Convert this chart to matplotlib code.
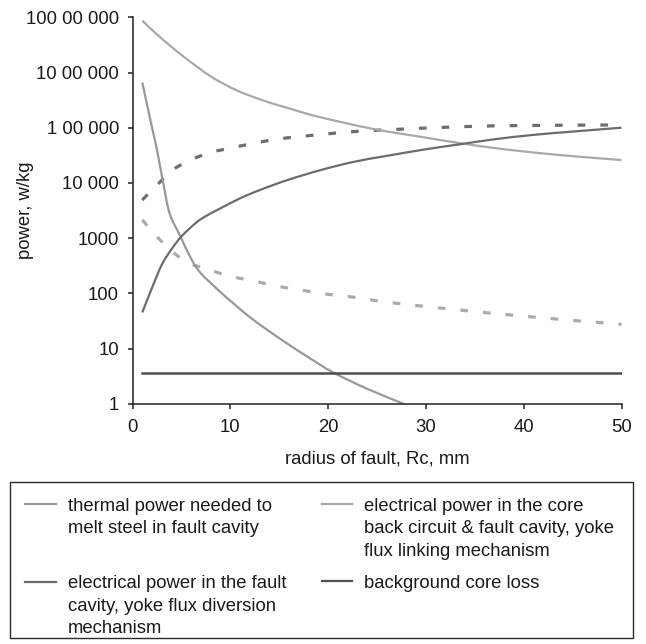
import numpy as np
import matplotlib
matplotlib.use("Agg")
import matplotlib.pyplot as plt
from matplotlib.lines import Line2D
from matplotlib.patches import Rectangle, PathPatch
from matplotlib.path import Path
from matplotlib.transforms import Affine2D
from matplotlib.ticker import NullLocator

plt.rcParams["font.family"] = ["Liberation Sans", "DejaVu Sans"]
FS = 13.3

# ---- data: fault radius (mm) vs power (W/kg) ----
core_back_x = [1, 2, 3, 4, 5.5, 8, 10.6, 13.4, 16, 19, 24.6, 30, 33.5, 38, 44, 50]
core_back_y = [8.7e6, 5.9e6, 4.1e6, 2.9e6, 1.78e6, 8.5e5, 4.8e5, 3.1e5, 2.24e5,
               1.58e5, 9.5e4, 6.6e4, 5.25e4, 4.07e4, 3.16e4, 2.6e4]

thermal_x = [1, 2, 2.5, 3.15, 3.8, 4.9, 5.9, 6.9, 9, 10.3, 12, 14, 16, 18, 20.5, 24, 27.7]
thermal_y = [6.6e5, 1.0e5, 4.0e4, 9.8e3, 2.8e3, 1070, 457, 240, 105, 66, 37, 20.4,
             11.7, 6.9, 3.7, 1.86, 1.0]

diversion_x = [1, 2, 3, 4, 5, 6.5, 7.5, 9, 11, 13, 15.8, 19.2, 22.6, 26, 30,
               33.5, 37, 41, 45, 50]
diversion_y = [45, 126, 331, 631, 1070, 1900, 2500, 3470, 5250, 7400, 11200,
               17000, 24000, 30900, 40700, 50100, 61700, 74100, 85100, 100000]

trend_upper_x = [1, 2.5, 4.4, 7.4, 10, 12.5, 14.7, 17.1, 19.5, 22.6, 27, 33.8, 40.3, 50]
trend_upper_y = [4900, 9100, 18600, 33100, 42700, 52500, 61700, 69200, 75900,
                 85100, 93300, 104700, 109600, 112200]

trend_lower_x = [1, 2.8, 5.2, 7.4, 10, 12.5, 14.7, 17, 19.5, 22.6, 24.8, 27, 31.5, 40.3, 50]
trend_lower_y = [2140, 933, 398, 282, 204, 166, 135, 117, 98, 85, 74, 66, 54, 38, 27.5]

background_x = [1, 50]
background_y = [3.56, 3.56]

y_ticks = [1, 10, 100, 1000, 1e4, 1e5, 1e6, 1e7]
y_tick_labels = ["1", "10", "100", "1000", "10 000", "1 00 000", "10 00 000", "100 00 000"]
x_ticks = [0, 10, 20, 30, 40, 50]

legend_entries = [
    ("thermal", ["thermal power needed to", "melt steel in fault cavity"]),
    ("core_back", ["electrical power in the core", "back circuit & fault cavity, yoke",
                   "flux linking mechanism"]),
    ("diversion", ["electrical power in the fault", "cavity, yoke flux diversion",
                   "mechanism"]),
    ("background", ["background core loss"]),
]

colors = {
    "thermal": "#989898",
    "core_back": "#a9a9a9",
    "diversion": "#6c6c6c",
    "background": "#505050",
    "trend_upper": "#6e6e6e",
    "trend_lower": "#ababab",
}


def smooth_curve(ax, xs, ys, **kw):
    """Draw a smoothed line through (xs, ys) as cubic Bezier segments
    (Catmull-Rom tangents taken in x / log10(y) space)."""
    P = np.column_stack([np.asarray(xs, float), np.log10(ys)])
    n = len(P)
    verts = [P[0]]
    codes = [Path.MOVETO]
    for i in range(n - 1):
        p0 = P[max(i - 1, 0)]
        p3 = P[min(i + 2, n - 1)]
        c1 = P[i] + (P[i + 1] - p0) / 6.0
        c2 = P[i + 1] - (p3 - P[i]) / 6.0
        verts += [c1, c2, P[i + 1]]
        codes += [Path.CURVE4] * 3
    V = np.array(verts)
    V[:, 1] = 10.0 ** V[:, 1]
    patch = PathPatch(Path(V, codes), fill=False, capstyle="butt", **kw)
    ax.add_patch(patch)
    return patch


W, H = 646, 644
fig = plt.figure(figsize=(W / 100, H / 100), dpi=100)
ax = fig.add_axes([132.5 / W, 1 - 403.7 / H, 489 / W, 386.4 / H])

ax.set_yscale("log")
ax.set_ylim(1, 1e7)
ax.set_xlim(0, 50)

dash = (0, (2.4, 4.7))
smooth_curve(ax, trend_upper_x, trend_upper_y, edgecolor=colors["trend_upper"], lw=2.3, ls=dash)
smooth_curve(ax, trend_lower_x, trend_lower_y, edgecolor=colors["trend_lower"], lw=2.3, ls=dash)
smooth_curve(ax, core_back_x, core_back_y, edgecolor=colors["core_back"], lw=1.6)
smooth_curve(ax, thermal_x, thermal_y, edgecolor=colors["thermal"], lw=1.6)
smooth_curve(ax, diversion_x, diversion_y, edgecolor=colors["diversion"], lw=1.6)
ax.plot(background_x, background_y, color=colors["background"], lw=1.8)

ax.set_yticks(y_ticks)
ax.set_yticklabels(y_tick_labels)
ax.yaxis.set_minor_locator(NullLocator())
ax.set_xticks(x_ticks)
ax.set_xticklabels([str(v) for v in x_ticks])

for side in ("top", "right"):
    ax.spines[side].set_visible(False)
for side in ("left", "bottom"):
    ax.spines[side].set_linewidth(1.1)
    ax.spines[side].set_color("#222222")
ax.tick_params(axis="both", direction="out", length=3.8, width=1.1,
               color="#222222", labelsize=FS, labelcolor="#1a1a1a")
ax.tick_params(axis="y", pad=6.0)
ax.tick_params(axis="x", pad=7.5)

ax.set_xlabel("radius of fault, Rc, mm", fontsize=FS, color="#1a1a1a")
ax.xaxis.set_label_coords(0.5, (403.7 - 459) / 386.4)
ax.xaxis.label.set_va("center")
ax.set_ylabel("power, w/kg", fontsize=FS, color="#1a1a1a")
ax.yaxis.set_label_coords((25 - 132.5) / 489, 0.5)
ax.yaxis.label.set_va("center")

# ---- legend box drawn in pixel coordinates (origin top-left) ----
pix = Affine2D().scale(1 / W, -1 / H).translate(0, 1) + fig.transFigure
fig.add_artist(Rectangle((9.5, 481.7), 623.2, 156.5, transform=pix,
                         fill=False, edgecolor="#2a2a2a", lw=1.0))

slots = [(25, 67.7, 510.7), (321.7, 364.3, 510.7), (25, 67.7, 588.3), (321.7, 364.3, 587.7)]
for (key, lines), (hx, tx, base) in zip(legend_entries, slots):
    fig.add_artist(Line2D([hx, hx + 30.5], [base - 6.5, base - 6.5], transform=pix,
                          color=colors[key], lw=1.6))
    for i, line in enumerate(lines):
        fig.text(tx, base + i * 22.6, line, transform=pix, fontsize=FS,
                 color="#1a1a1a", ha="left", va="baseline")

fig.savefig("out.png", dpi=100)
